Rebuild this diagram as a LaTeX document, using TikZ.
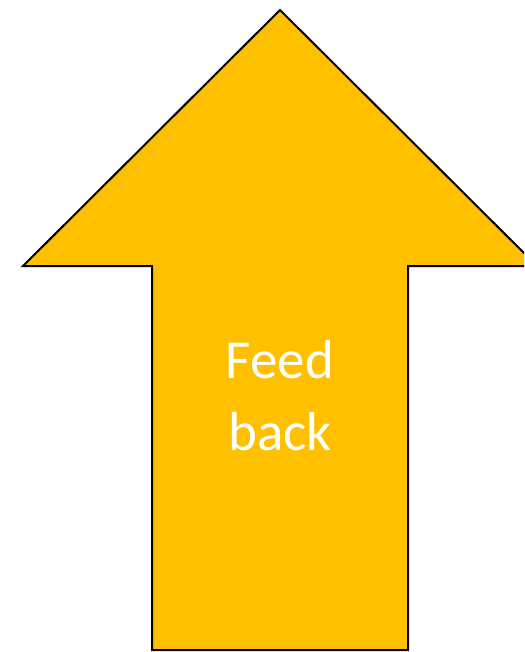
\documentclass[tikz,border=0pt]{standalone}
\usepackage{fontspec}
\setmainfont{Carlito}
\definecolor{arrowfill}{HTML}{FFC000}
\begin{document}
\begin{tikzpicture}[x=1pt,y=-1pt,
  arrowshape/.style={fill=arrowfill,draw=black,line width=2pt,line join=miter},
  label/.style={text=white,align=center,font=\fontsize{55}{72}\selectfont,inner sep=0pt}]
\useasboundingbox (0,0) rectangle (524,652);
\begin{scope}
\clip (0,0) rectangle (524,652);
\draw[arrowshape] (280,10) -- (537,266) -- (408,266) -- (408,650) -- (152,650) -- (152,266) -- (23,266) -- cycle;
\end{scope}
\node[label] (txt) at (280,396) {Feed\\back};
\end{tikzpicture}
\end{document}
